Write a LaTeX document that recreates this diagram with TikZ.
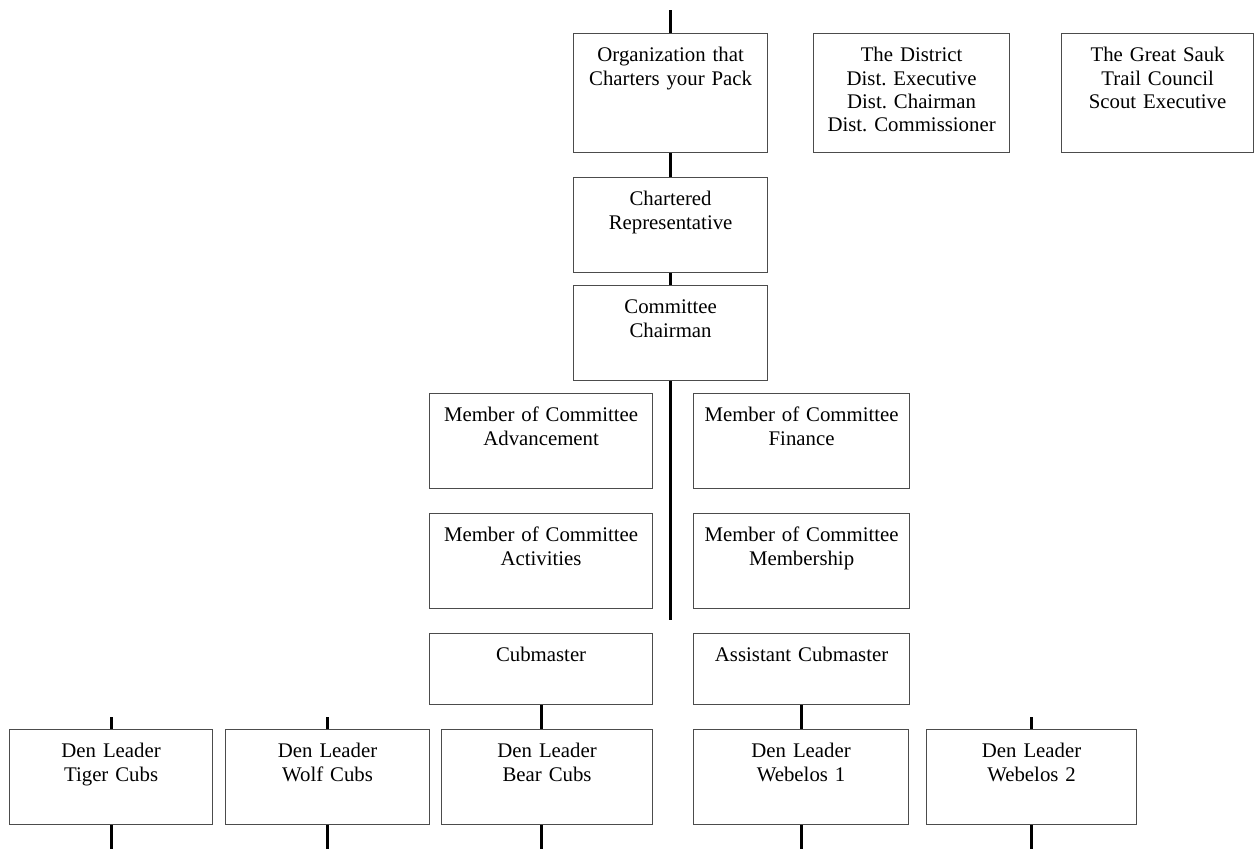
\documentclass[tikz,border=0pt]{standalone}
\usepackage{fontspec}
\setmainfont{Liberation Serif}
\frenchspacing
\tikzset{
  post/.style={draw=black!70, line width=0.6pt, align=center, anchor=north west,
    inner sep=0pt, text height=14pt, font=\fontsize{10.4}{11.7}\selectfont},
  tall/.style={text depth=45.5pt},
  mid/.style={text depth=33.5pt},
  short/.style={text depth=21.5pt},
  link/.style={line width=1.5pt}
}
\begin{document}
\begin{tikzpicture}[x=0.5pt,y=-0.5pt]
\useasboundingbox (0,0) rectangle (1254,848);
%\draw[step=50,gray,very thin] (0,0) grid (1250,850);
\node[post,tall,text width=97pt] (org) at (573,33) {Organization that\\Charters your Pack};
\node[post,tall,text width=98pt] (district) at (813,33) {The District\\Dist. Executive\\Dist. Chairman\\Dist. Commissioner};
\node[post,tall,text width=96pt] (council) at (1061,33) {The Great Sauk\\Trail Council\\Scout Executive};
\node[post,mid,text width=97pt] (charter) at (573,177) {Chartered\\Representative};
\node[post,mid,text width=97pt] (chair) at (573,285) {Committee\\Chairman};
\node[post,mid,text width=111.5pt] (adv) at (429,393) {Member of Committee\\Advancement};
\node[post,mid,text width=108pt] (fin) at (693,393) {Member of Committee\\Finance};
\node[post,mid,text width=111.5pt] (act) at (429,513) {Member of Committee\\Activities};
\node[post,mid,text width=108pt] (memb) at (693,513) {Member of Committee\\Membership};
\node[post,short,text width=111.5pt] (cub) at (429,633) {Cubmaster};
\node[post,short,text width=108pt] (asst) at (693,633) {Assistant Cubmaster};
\node[post,mid,text width=101.5pt] (tiger) at (9,729) {Den Leader\\Tiger Cubs};
\node[post,mid,text width=102pt] (wolf) at (225,729) {Den Leader\\Wolf Cubs};
\node[post,mid,text width=105.5pt] (bear) at (441,729) {Den Leader\\Bear Cubs};
\node[post,mid,text width=107.5pt] (webA) at (693,729) {Den Leader\\Webelos 1};
\node[post,mid,text width=105pt] (webB) at (926,729) {Den Leader\\Webelos 2};
% main line
\coordinate (top) at (669,10);
\coordinate (spine) at (669,620);
\draw[link] (org.north |- top) -- (org.north);
\draw[link] (org.south) -- (charter.north);
\draw[link] (charter.south) -- (chair.north);
\draw[link] (chair.south) -- (chair.south |- spine);
% dens
\draw[link] (cub.south) -- (cub.south |- bear.north);
\draw[link] (asst.south) -- (asst.south |- webA.north);
\foreach \den in {tiger,wolf,webB}
  \draw[link] (\den.north) -- ++(0,-12);
\foreach \den in {tiger,wolf,webA,webB}
  \draw[link] (\den.south) -- ++(0,24);
\draw[link] (bear.south -| cub.south) -- ++(0,24);
\end{tikzpicture}
\end{document}
